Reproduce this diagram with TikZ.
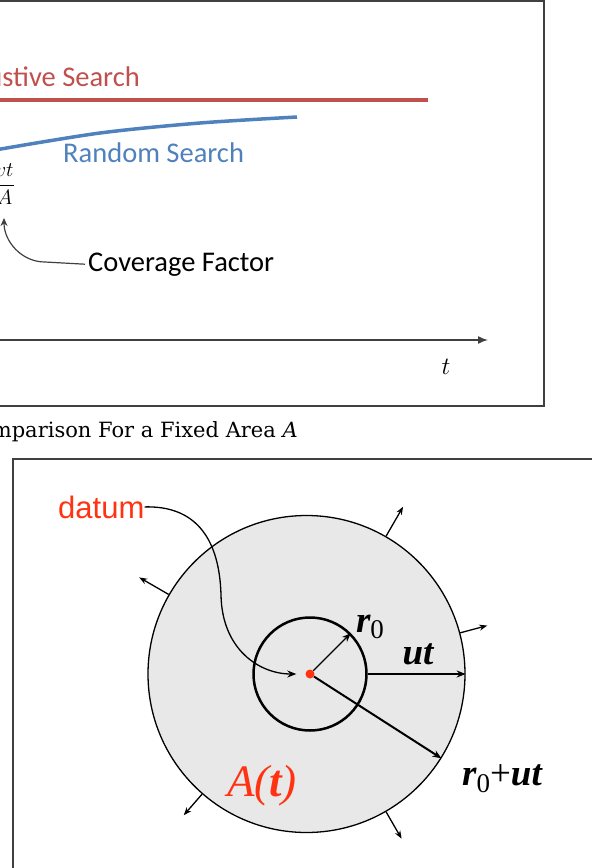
\documentclass[tikz,border=0pt]{standalone}
\usepackage{fontspec}
\usepackage{amsmath}
\usepackage{tikz}
\usetikzlibrary{arrows.meta}
\newfontfamily\calibrifont{Carlito}
\newfontfamily\arialfont{Liberation Sans}
\newfontfamily\timesfont{Liberation Serif}
\newfontfamily\capfont{DejaVu Serif}
\definecolor{exhred}{HTML}{C0504D}
\definecolor{rndblue}{HTML}{4F81BD}
\definecolor{datumred}{HTML}{FF3311}
\definecolor{discgray}{HTML}{E8E8E8}
\definecolor{framegray}{HTML}{404040}
\newcommand{\rzero}{r\raisebox{-0.4ex}{\upshape\mdseries\fontsize{27}{27}\selectfont 0}}

\begin{document}
\begin{tikzpicture}[x=1pt,y=-1pt,
  frameline/.style={draw=framegray, line width=1.5pt},
  flow/.style={-{Stealth[length=9pt,width=7pt]}, line width=1.3pt},
  lbl/.style={font=\timesfont\bfseries\itshape\fontsize{37}{37}\selectfont, inner sep=0pt}]
\useasboundingbox (0,0) rectangle (592,868);
\clip (0,0) rectangle (592,868);
% search comparison chart
\draw[frameline] (-10,1) rectangle (544,406);
\draw[exhred, line width=3.5pt] (-5,100) -- (428,100);
\draw[rndblue, line width=3.5pt] plot[smooth] coordinates {(-5,150) (100,133) (200,123) (297,117)};
\node[anchor=base east, inner sep=0pt, text=exhred, font=\calibrifont\fontsize{28.5}{28.5}\selectfont] (exh) at (140,86) {Exhaustive Search};
\node[anchor=base west, inner sep=0pt, text=rndblue, font=\calibrifont\fontsize{28.5}{28.5}\selectfont] (rnd) at (63,162) {Random Search};
\node[anchor=east, inner sep=1pt, font=\fontsize{22}{22}\selectfont] (cf) at (16,184) {$\dfrac{vt}{A}$};
\node[anchor=base west, inner sep=0pt, font=\calibrifont\fontsize{28.5}{28.5}\selectfont] (cov) at (88,271) {Coverage Factor};
\coordinate (cftip) at (4,218);
\draw[draw=framegray, line width=1.2pt, -{Stealth[length=8pt,width=7pt]}] ([xshift=-3pt]cov.west) -- (45,262) to[out=180,in=-90] (cftip);
% time axis
\coordinate (ax0) at (-5,340);
\coordinate (ax1) at (488,340);
\draw[draw=framegray, line width=1.5pt, -{Latex[length=10pt,width=8pt]}] (ax0) -- (ax1);
\node[font=\fontsize{30}{30}\selectfont] (tlab) at (446,367) {$t$};
\node[anchor=base east, inner sep=0pt, font=\capfont\fontsize{21}{21}\selectfont] (cap) at (298,437) {Comparison For a Fixed Area \textit{A}};
% expanding search disc
\draw[frameline] (13,459) rectangle (610,890);
\node[circle, draw, fill=discgray, line width=1.3pt, minimum size=317pt, inner sep=0pt] (big) at (306.5,674) {};
\node[circle, draw, line width=2.5pt, minimum size=113pt, inner sep=0pt] (small) at (310,674) {};
\node[circle, fill=datumred, minimum size=9pt, inner sep=0pt] (dot) at (310,674) {};
\foreach \a/\l in {60/34, 15/28, 150/34, 229/28, 300/31}
  \draw[flow, -{Stealth[length=8pt,width=6pt]}] (big.\a) -- ++(\a:\l pt);
\draw[flow] (dot) -- (small.45);
\draw[flow, line width=2pt] (small.east) -- (big.east);
\draw[flow, line width=2pt] (dot) -- (big.-32);
\node[lbl] (r0) at (370,627) {\rzero};
\node[lbl] (ut) at (418,654) {ut};
\node[lbl] (r0ut) at (502,779) {\rzero\mdseries\upshape+\bfseries\itshape ut};
\node[inner sep=0pt, text=datumred, font=\timesfont\itshape\fontsize{45}{45}\selectfont] (area) at (262,786) {A(\textbf{t})};
\node[anchor=base west, inner sep=0pt, text=datumred, font=\arialfont\fontsize{31}{31}\selectfont] (datum) at (58,518) {datum};
\draw[flow, shorten >=9pt] (datum.east) .. controls (210,505) and (220,560) .. (221,595)
  .. controls (222,650) and (260,674) .. (dot);
\end{tikzpicture}
\end{document}
